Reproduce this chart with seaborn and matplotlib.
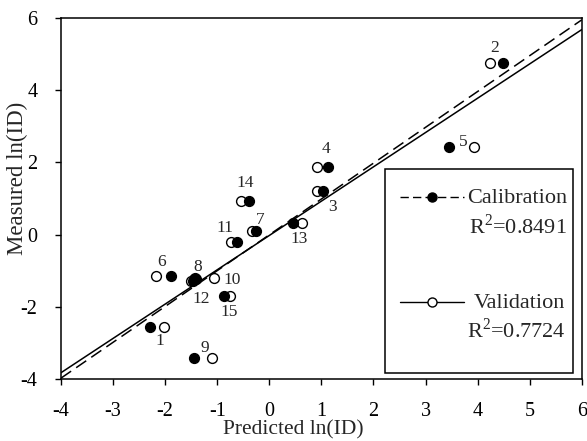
import matplotlib
matplotlib.use("Agg")
import matplotlib.pyplot as plt
import seaborn as sns
import numpy as np
import pandas as pd
from matplotlib.lines import Line2D
from matplotlib.patches import Rectangle

# ---- data ----
sample_id = [1, 2, 3, 4, 5, 6, 7, 8, 9, 10, 11, 12, 13, 14, 15]
measured = [-2.56, 4.76, 1.20, 1.88, 2.42, -1.15, 0.09, -1.22, -3.41, -1.20, -0.21, -1.30, 0.31, 0.94, -1.70]
cal_pred = [-2.29, 4.48, 1.03, 1.12, 3.45, -1.88, -0.26, -1.40, -1.44, -1.42, -0.63, -1.47, 0.46, -0.39, -0.87]
val_pred = [-2.02, 4.23, 0.91, 0.91, 3.93, -2.18, -0.34, -1.45, -1.10, -1.06, -0.74, -1.50, 0.63, -0.55, -0.76]
label_pos_x = [-2.11, 4.33, 1.21, 1.09, 3.72, -2.07, -0.18, -1.38, -1.24, -0.72, -0.85, -1.30, 0.57, -0.47, -0.78]
label_pos_y = [-2.94, 5.16, 0.77, 2.36, 2.57, -0.75, 0.40, -0.89, -3.15, -1.26, 0.19, -1.79, -0.13, 1.42, -2.16]
cal_line_x = [-4, 6]
cal_line_y = [-3.98, 5.95]
val_line_x = [-4, 6]
val_line_y = [-3.83, 5.68]
cal_r2 = "0.8491"
val_r2 = "0.7724"

sns.set_style("ticks")
plt.rcParams['font.family'] = 'serif'
plt.rcParams['font.serif'] = ['Liberation Serif', 'Times New Roman', 'DejaVu Serif']
plt.rcParams['mathtext.fontset'] = 'custom'
plt.rcParams['mathtext.rm'] = 'Liberation Serif'
plt.rcParams['axes.unicode_minus'] = False

fig = plt.figure(figsize=(5.87, 4.41), dpi=100)
ax = fig.add_axes([0.104, 0.141, 0.887, 0.818])

df = pd.DataFrame({"id": sample_id, "measured": measured, "cal": cal_pred, "val": val_pred})
ldf_c = pd.DataFrame({"x": cal_line_x, "y": cal_line_y})
ldf_v = pd.DataFrame({"x": val_line_x, "y": val_line_y})

sns.lineplot(data=ldf_c, x="x", y="y", ax=ax, color="black", lw=1.1, linestyle=(0, (8, 4)))
sns.lineplot(data=ldf_v, x="x", y="y", ax=ax, color="black", lw=1.1)

sns.scatterplot(data=df, x="val", y="measured", ax=ax, marker="o", s=50,
                facecolor="white", edgecolor="black", linewidth=1.0, zorder=3)
sns.scatterplot(data=df, x="cal", y="measured", ax=ax, marker="o", s=50,
                color="black", edgecolor="black", linewidth=1.0, zorder=4)

for i, lx, ly in zip(sample_id, label_pos_x, label_pos_y):
    ax.text(lx, ly, str(i), fontsize=12.5, ha="center", va="center", zorder=5)

ax.set_xlim(-4, 6)
ax.set_ylim(-4, 6)
ax.set_xticks(np.arange(-4, 7, 1))
ax.set_yticks(np.arange(-4, 7, 2))
ax.tick_params(axis="both", direction="out", length=4, width=1, labelsize=14.5, pad=13, colors="black")
for sp in ax.spines.values():
    sp.set_visible(True)
    sp.set_linewidth(1.1)
    sp.set_color("black")
ax.set_xlabel("Predicted ln(ID)", fontsize=15.5)
ax.set_ylabel("Measured ln(ID)", fontsize=16.5)
ax.xaxis.label.set_verticalalignment("baseline")
ax.xaxis.set_label_coords(0.446, -0.153)
ax.yaxis.set_label_coords(-0.064, 0.557)

h_cal = Line2D([], [], color="black", lw=1.0, linestyle=(0, (6, 3)), marker="o",
               markersize=6.5, markerfacecolor="black", markeredgecolor="black")
h_val = Line2D([], [], color="black", lw=1.0, marker="o",
               markersize=6.5, markerfacecolor="white", markeredgecolor="black")
leg = ax.legend([h_cal, h_val],
                ["Calibration\nR$^2$=" + cal_r2, "Validation\nR$^2$=" + val_r2],
                loc="upper left", bbox_to_anchor=(0.651, 0.525),
                fontsize=16, frameon=False,
                handlelength=2.9, handletextpad=0.12, labelspacing=2.5, borderpad=0,
                borderaxespad=0)
for t in leg.get_texts():
    t.set_multialignment("right")
    t.set_linespacing(1.27)
# align handles with the first line of each label
for col in leg._legend_handle_box.get_children():
    for item in col.get_children():
        item.align = "top"
ax.add_patch(Rectangle((0.622, 0.017), 0.361, 0.565, transform=ax.transAxes,
                       facecolor="none", edgecolor="black", lw=1.1, zorder=6))

fig.savefig("out.png", dpi=100)
